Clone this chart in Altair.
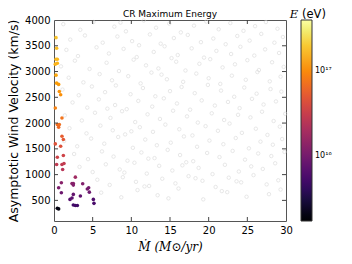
import altair as alt
import pandas as pd

# ---- coloured (successful) models: Mdot, wind velocity, max energy ----
mdot = [0.26, 0.34, 0.26, 0.43, 0.17, 0.43, 0.26, 0.34, 0.60, 0.69, 0.86, 0.17,
        1.03, 0.43, 0.69, 0.60, 1.03, 1.21, 0.17, 0.86, 0.43, 1.21, 0.34, 1.03,
        1.29, 1.12, 2.76, 0.95, 2.33, 2.50, 0.60, 2.50, 3.71, 4.31, 4.48, 4.57,
        0.95, 2.50, 2.07, 2.33, 3.41, 2.50, 2.76, 3.02, 5.09, 5.17, 0.43, 0.60]
vel = [3658, 3452, 3239, 3239, 3143, 3162, 2930, 2775, 2750, 2614, 2550, 2292,
       2098, 1970, 1970, 1918, 1744, 1680, 1596, 1550, 1338, 1370, 1196, 1196,
       1215, 1100, 951, 842, 829, 829, 745, 797, 823, 720, 745, 660,
       648, 616, 519, 545, 584, 410, 400, 400, 519, 442, 345, 335]
energy = [1.9e17, 1.8e17, 1.7e17, 1.7e17, 1.6e17, 1.6e17, 1.4e17, 1.25e17, 1.2e17, 1.1e17, 1.05e17, 9e16,
          7.5e16, 7e16, 7e16, 6.5e16, 5.5e16, 5e16, 4.6e16, 4.4e16, 3.4e16, 3.5e16, 2.8e16, 2.8e16,
          2.9e16, 2.5e16, 1.8e16, 1.3e16, 1.3e16, 1.3e16, 1.1e16, 1.2e16, 1.2e16, 1.0e16, 1.0e16, 9e15,
          9e15, 8e15, 6.5e15, 7e15, 7.5e15, 5e15, 5e15, 5e15, 6e15, 5.5e15, 2e15, 2e15]

# ---- grey (excluded) models ----
grey_x = [1.2,3.4,5.1,7.8,9.3,11.6,13.2,14.9,16.4,18.1,19.7,21.3,22.8,24.5,26.0,27.4,28.9,8.6,
          2.1,4.0,6.3,8.2,10.1,12.4,13.8,15.5,17.3,19.0,20.6,22.2,23.7,25.3,26.8,28.5,29.6,11.0,
          1.6,3.1,5.5,7.1,9.0,10.7,12.9,14.3,16.0,17.8,19.4,21.0,22.9,24.1,25.9,27.3,29.1,15.2,
          0.9,2.7,4.6,6.8,8.4,10.3,11.9,13.5,15.8,17.0,18.8,20.2,21.8,23.4,25.0,26.5,28.2,29.7,
          1.9,3.8,5.9,7.5,9.6,11.2,12.6,14.6,16.7,18.4,20.0,21.5,23.0,24.8,26.3,27.9,29.3,13.9,
          1.1,3.2,4.9,6.6,8.0,9.9,11.5,13.1,15.0,16.5,18.2,19.9,21.6,23.3,24.6,26.2,28.0,29.4,
          2.4,4.3,5.8,7.9,9.4,10.9,12.7,14.2,15.9,17.6,19.1,20.8,22.5,24.0,25.6,27.1,28.7,6.9,
          1.4,3.6,5.3,7.3,8.8,10.5,12.1,13.7,15.4,17.2,18.6,20.4,22.0,23.8,25.4,26.9,28.4,29.9,
          2.0,4.2,6.0,7.6,9.2,11.1,12.8,14.4,16.2,17.9,19.6,21.2,22.7,24.3,26.1,27.6,29.2,10.0,
          1.3,3.0,4.8,6.5,8.3,10.2,11.8,13.3,15.1,16.8,18.5,20.1,21.9,23.5,25.2,26.7,28.3,29.5,
          2.6,4.4,6.2,7.7,9.5,11.3,13.0,14.7,16.3,18.0,19.8,21.4,23.1,24.7,26.4,28.1,29.8,12.2,
          3.3,5.0,6.7,8.5,10.4,12.0,13.6,15.3,17.1,18.7,20.5,22.1,23.9,25.5,27.0,28.6,9.1,16.6,
          5.6,7.2,8.9,10.6,12.3,14.0,15.7,17.4,19.2,20.9,22.6,24.2,25.8,27.5,29.0,11.7,18.3,23.6,
          6.1,8.7,10.8,13.4,16.1,19.3,21.7,24.9,27.8,29.3,14.8,22.4]
grey_y = [3920,3810,3960,3870,3780,3990,3850,3930,3760,3890,3970,3820,3940,3790,3880,3960,3830,3950,
          3620,3700,3560,3680,3590,3720,3540,3650,3710,3570,3640,3530,3690,3600,3730,3560,3670,3510,
          3420,3300,3470,3350,3440,3280,3380,3490,3320,3450,3270,3400,3340,3480,3310,3430,3360,3260,
          3100,3210,3050,3170,3010,3230,3120,3060,3190,3020,3150,3240,3080,3140,3220,3030,3180,3090,
          2880,2790,2950,2830,2910,2770,2980,2850,2800,2960,2870,2760,2920,2840,2990,2810,2900,2940,
          2650,2540,2710,2600,2730,2560,2680,2520,2620,2700,2580,2740,2630,2510,2690,2570,2660,2610,
          2400,2300,2460,2350,2270,2430,2320,2480,2380,2260,2440,2340,2410,2290,2470,2360,2420,2280,
          2150,2050,2200,2100,2230,2020,2170,2080,2240,2130,2010,2190,2060,2160,2110,2220,2040,2180,
          1900,1800,1950,1860,1780,1920,1830,1970,1880,1760,1940,1850,1990,1810,1890,1770,1930,1840,
          1650,1550,1700,1600,1730,1520,1680,1570,1620,1740,1540,1660,1590,1710,1510,1640,1580,1690,
          1400,1300,1450,1350,1270,1430,1320,1480,1380,1260,1420,1340,1460,1290,1410,1360,1440,1310,
          1150,1050,1200,1100,1230,1020,1170,1080,1240,1130,1010,1190,1060,1160,1110,1220,1040,1180,
          900,800,950,860,780,920,830,970,880,760,940,850,990,810,890,770,930,870,
          650,560,700,600,730,520,680,570,620,710,540,660]

x_ticks = [5, 10, 15, 20, 25]
y_ticks = [500, 1000, 1500, 2000, 2500, 3000, 3500]
x_labels = [0, 5, 10, 15, 20, 25, 30]
y_labels = [500, 1000, 1500, 2000, 2500, 3000, 3500, 4000]

W, H = 232, 201
xs = alt.Scale(domain=[0, 30], nice=False, zero=False)
ys = alt.Scale(domain=[100, 4000], nice=False, zero=False)

good = pd.DataFrame({"mdot": mdot, "vel": vel, "E": energy})
bad = pd.DataFrame({"mdot": grey_x, "vel": grey_y})

x_axis = alt.Axis(title="Ṁ   (M⊙/yr)", values=x_labels, format="d",
                  titleFont="DejaVu Serif", titleFontStyle="italic",
                  titleFontSize=12, titlePadding=6)
y_axis = alt.Axis(title="Asymptotic Wind Velocity (km/s)", values=y_labels,
                  format="d", titleFont="DejaVu Sans",
                  titleFontSize=12.5, titlePadding=4)

grey = alt.Chart(bad).mark_point(shape="circle", filled=False, stroke="#d6d6d6",
                                 strokeWidth=0.8, size=12).encode(
    x=alt.X("mdot:Q", scale=xs, axis=x_axis),
    y=alt.Y("vel:Q", scale=ys, axis=y_axis))

col = alt.Chart(good).mark_circle(size=13, opacity=1).encode(
    x=alt.X("mdot:Q", scale=xs, axis=x_axis),
    y=alt.Y("vel:Q", scale=ys, axis=y_axis),
    color=alt.Color("E:Q",
                    scale=alt.Scale(type="log", domain=[1.7e15, 4e17], scheme="inferno"),
                    legend=alt.Legend(orient="none", legendX=247, legendY=0, title=None,
                                      direction="vertical", gradientLength=201,
                                      gradientThickness=11, gradientStrokeColor="#333",
                                      gradientStrokeWidth=1, values=[1e16, 1e17],
                                      labelExpr="datum.value >= 5e16 ? '10¹⁷' : '10¹⁶'",
                                      labelFontSize=8, labelFont="DejaVu Sans",
                                      labelOffset=3, labelColor="black")),
)

xt = pd.DataFrame({"mdot": x_ticks})
yt = pd.DataFrame({"vel": y_ticks})
tick_style = dict(color="#444", strokeWidth=1)
xb = alt.Chart(xt).mark_rule(**tick_style).encode(
    x=alt.X("mdot:Q", scale=xs, axis=x_axis), y=alt.value(H), y2=alt.value(H - 4))
xtp = alt.Chart(xt).mark_rule(**tick_style).encode(
    x=alt.X("mdot:Q", scale=xs, axis=x_axis), y=alt.value(0), y2=alt.value(4))
yl = alt.Chart(yt).mark_rule(**tick_style).encode(
    y=alt.Y("vel:Q", scale=ys, axis=y_axis), x=alt.value(0), x2=alt.value(4))
yr = alt.Chart(yt).mark_rule(**tick_style).encode(
    y=alt.Y("vel:Q", scale=ys, axis=y_axis), x=alt.value(W), x2=alt.value(W - 4))

lab = pd.DataFrame({"t": ["E"], "u": ["(eV)"], "title": ["CR Maximum Energy"]})
e_txt = alt.Chart(lab).mark_text(font="DejaVu Serif", fontStyle="italic", fontSize=11.5,
                                 align="center", baseline="alphabetic").encode(
    text="t:N", x=alt.value(240), y=alt.value(-2))
ev_txt = alt.Chart(lab).mark_text(font="DejaVu Sans", fontSize=11.5, align="left",
                                  baseline="alphabetic").encode(
    text="u:N", x=alt.value(248), y=alt.value(-2))
t_txt = alt.Chart(lab).mark_text(font="DejaVu Sans", fontSize=9, align="center",
                                 baseline="alphabetic", color="black").encode(
    text="title:N", x=alt.value(W / 2), y=alt.value(-3))

chart = alt.layer(grey, col, xb, xtp, yl, yr, e_txt, ev_txt, t_txt).properties(
    width=W, height=H,
    background="white",
    autosize=alt.AutoSizeParams(type="none"),
    padding={"left": 46, "top": 12, "right": 58, "bottom": 35},
).configure_view(stroke="#555", strokeWidth=1).configure_axis(
    labelOverlap=False, labelFlush=False, ticks=False, grid=False, domain=False,
    labelFontSize=10, labelPadding=4, labelFont="DejaVu Sans", labelColor="black",
    titleFontWeight="normal", titleColor="black")

chart.save("out.html", embed_options={"renderer": "svg", "actions": False})
